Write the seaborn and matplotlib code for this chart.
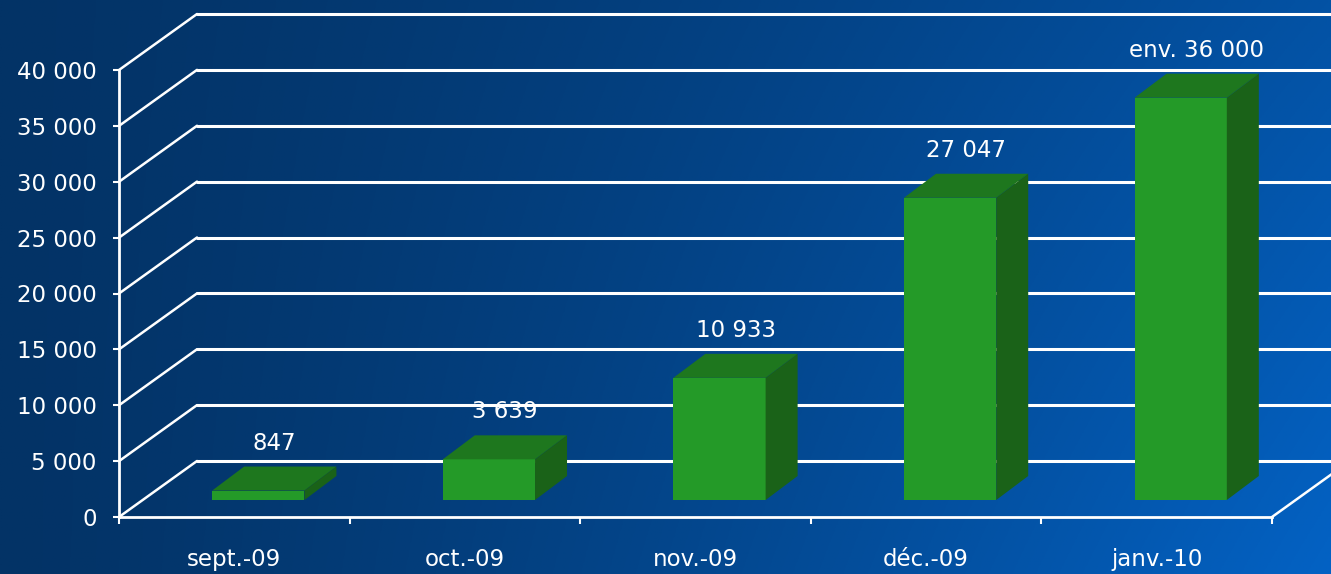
import numpy as np
import matplotlib
matplotlib.use("Agg")
import matplotlib.pyplot as plt
import matplotlib.transforms as mtransforms
from matplotlib.patches import Polygon
from matplotlib.ticker import FuncFormatter, FixedLocator
import seaborn as sns
import pandas as pd

# ---- data ----
months = ["sept.-09", "oct.-09", "nov.-09", "déc.-09", "janv.-10"]
values = [847, 3639, 10933, 27047, 36000]
value_labels = ["847", "3 639", "10 933", "27 047", "env. 36 000"]
y_ticks = [0, 5000, 10000, 15000, 20000, 25000, 30000, 35000, 40000]

# ---- styling ----
sns.set_theme(style="white")
plt.rcParams["font.family"] = ["DejaVu Sans"]
WHITE = "white"
FRONT = "#249A28"
TOP = "#1E771E"
SIDE = "#1A6218"
DARK = np.array([3, 51, 102]) / 255
BRIGHT = np.array([3, 98, 196]) / 255
FS = 16.5

W, H, DPI = 1331, 574, 100
fig = plt.figure(figsize=(W / DPI, H / DPI), dpi=DPI)

# background gradient
bg = fig.add_axes([0, 0, 1, 1], zorder=-10)
xx, yy = np.meshgrid(np.linspace(0, 1, 400), np.linspace(0, 1, 200))
f = np.clip(xx ** 1.3 * (0.66 + 0.34 * yy), 0, 1)
img = DARK[None, None, :] + (BRIGHT - DARK)[None, None, :] * f[:, :, None]
bg.imshow(img, aspect="auto", extent=[0, 1, 0, 1], origin="upper")
bg.axis("off")

ax = fig.add_axes([119 / W, (H - 517) / H, 1153 / W, 447 / H])
ax.patch.set_alpha(0)

df = pd.DataFrame({"month": months, "value": values})
sns.barplot(data=df, x="month", y="value", ax=ax, width=0.40, color=FRONT,
            saturation=1, zorder=5)
ax.set_xlim(-0.5, len(months) - 0.5)
ax.set_ylim(0, 40000)

# 3-D geometry offsets in pixels
WALL_DX, WALL_DY = 78, 56
BAR_DX, BAR_DY = 24, 17
DEP_DX, DEP_DY = 32, 24

fig.canvas.draw()
tD = ax.transData
ident = mtransforms.IdentityTransform()

# back wall gridlines and left wall diagonals
x_lo, x_hi = ax.get_xlim()
for v in y_ticks:
    (xl, yv), (xr, _) = tD.transform([(x_lo, v), (x_hi, v)])
    ax.add_line(plt.Line2D([xl + WALL_DX, xr + WALL_DX], [yv + WALL_DY, yv + WALL_DY],
                           transform=ident, color=WHITE, lw=2.2, zorder=1, clip_on=False))
    ax.add_line(plt.Line2D([xl, xl + WALL_DX], [yv, yv + WALL_DY],
                           transform=ident, color=WHITE, lw=1.8, zorder=1, clip_on=False))
# floor right edge
(xr0, y0), = tD.transform([(x_hi, 0)])
ax.add_line(plt.Line2D([xr0, xr0 + WALL_DX], [y0, y0 + WALL_DY], transform=ident,
                       color=WHITE, lw=1.8, zorder=1, clip_on=False))

# bars: shift front faces and add top and side faces
shift = tD + mtransforms.Affine2D().translate(BAR_DX, BAR_DY)
for p in ax.patches:
    p.set_transform(shift)
    p.set_edgecolor("none")
    p.set_clip_on(False)
    x0, w, h = p.get_x(), p.get_width(), p.get_height()
    (ax0, ay0), (ax1, ay1) = shift.transform([(x0, 0), (x0 + w, h)])
    top = Polygon([(ax0, ay1), (ax1, ay1), (ax1 + DEP_DX, ay1 + DEP_DY),
                   (ax0 + DEP_DX, ay1 + DEP_DY)], closed=True, transform=ident,
                  facecolor=TOP, edgecolor="none", zorder=5, clip_on=False)
    side = Polygon([(ax1, ay0), (ax1 + DEP_DX, ay0 + DEP_DY), (ax1 + DEP_DX, ay1 + DEP_DY),
                    (ax1, ay1)], closed=True, transform=ident,
                   facecolor=SIDE, edgecolor="none", zorder=5, clip_on=False)
    ax.add_patch(top)
    ax.add_patch(side)

# value labels
lab_tr = tD + mtransforms.Affine2D().translate(BAR_DX + DEP_DX / 2, BAR_DY + 36)
for i, (v, s) in enumerate(zip(values, value_labels)):
    ax.text(i, v, s, transform=lab_tr, ha="center", va="bottom", color=WHITE,
            fontsize=FS, zorder=6, clip_on=False)

# axes styling
for s in ["top", "right"]:
    ax.spines[s].set_visible(False)
for s in ["left", "bottom"]:
    ax.spines[s].set_color(WHITE)
    ax.spines[s].set_linewidth(2)
    ax.spines[s].set_zorder(2)

ax.yaxis.set_major_locator(FixedLocator(y_ticks))
ax.yaxis.set_major_formatter(FuncFormatter(lambda v, _: f"{int(v):,}".replace(",", " ")))
ax.tick_params(axis="y", which="major", direction="out", length=4, width=1.5,
               color=WHITE, labelcolor=WHITE, labelsize=FS, pad=12, left=True)
ax.set_xticks(np.arange(-0.5, len(months), 1.0), minor=True)
ax.tick_params(axis="x", which="minor", direction="out", length=5, width=1.5,
               color=WHITE, bottom=True)
ax.tick_params(axis="x", which="major", length=0, labelcolor=WHITE, labelsize=FS, pad=22)
ax.set_xlabel("")
ax.set_ylabel("")
ax.grid(False)

fig.savefig("out.png", dpi=DPI)
